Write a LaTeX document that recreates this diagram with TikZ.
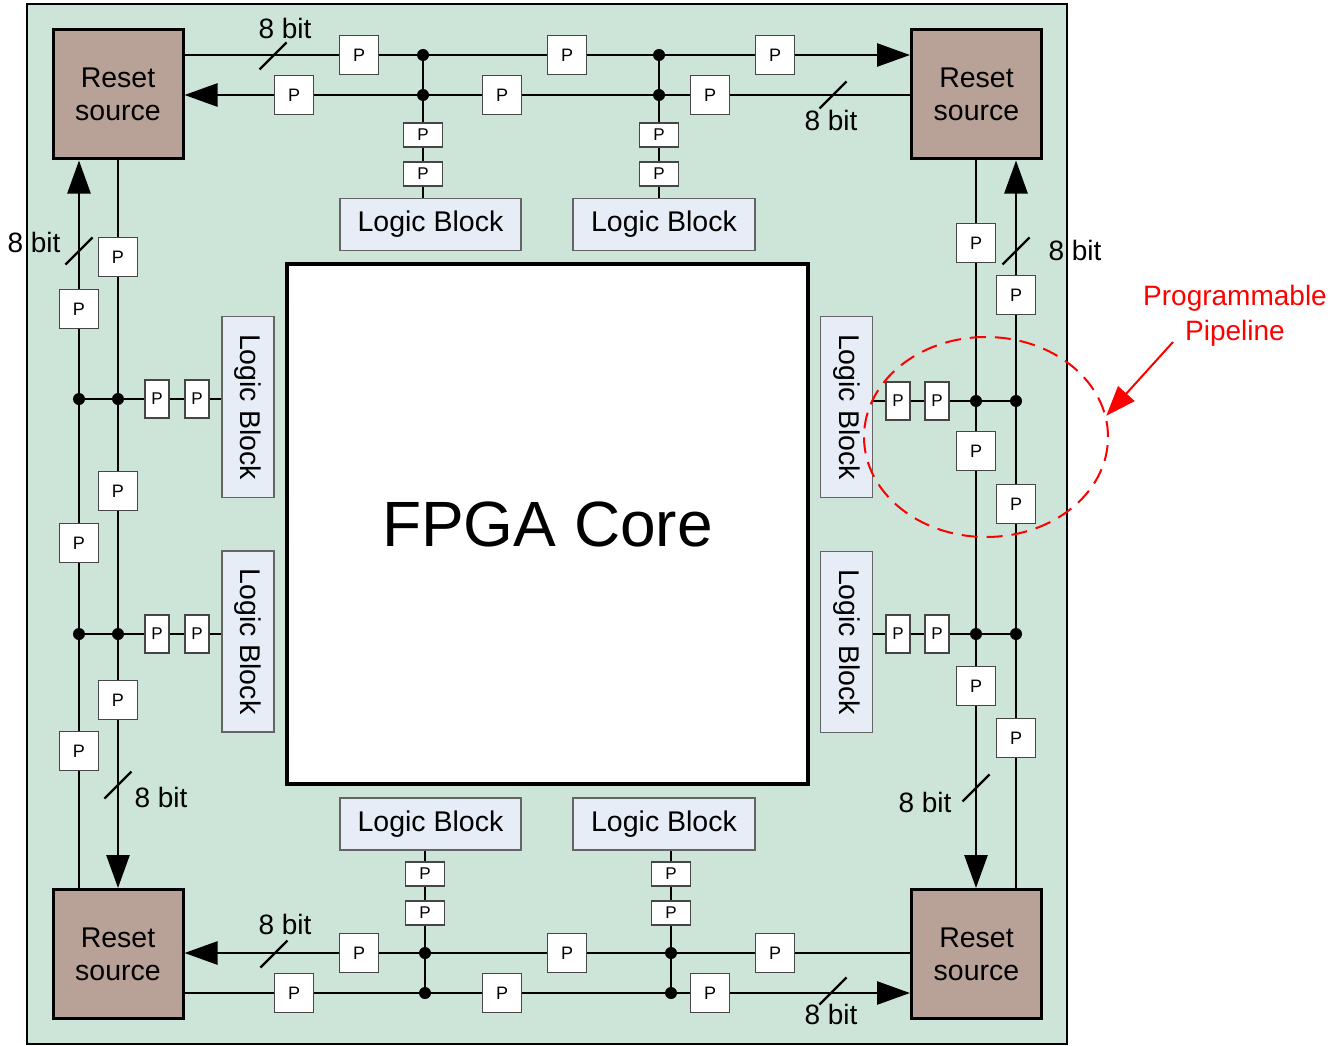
\documentclass[tikz,border=0pt]{standalone}
\usepackage{fontspec}
\setmainfont{Liberation Sans}
\usetikzlibrary{arrows.meta,shapes.geometric}
\definecolor{bgc}{RGB}{205,229,217}
\definecolor{rsc}{RGB}{184,162,152}
\definecolor{lbc}{RGB}{230,237,247}
\definecolor{pbd}{RGB}{70,70,70}
\definecolor{lbd}{RGB}{100,100,100}
\tikzset{
  frame/.style={draw=black, line width=2.5pt, fill=bgc, inner sep=0},
  rs/.style={draw, line width=3pt, fill=rsc, minimum width=130pt, minimum height=129pt, align=center, font=\fontsize{28.5}{33}\selectfont, inner sep=0},
  lbh/.style={draw=lbd, line width=1.3pt, fill=lbc, minimum width=181pt, minimum height=52pt, font=\fontsize{28.5}{32}\selectfont, inner sep=0},
  lbv/.style={lbh, minimum width=52pt, minimum height=181pt},
  pb/.style={draw=pbd, line width=1.3pt, fill=white, minimum width=39pt, minimum height=39pt, font=\fontsize{18}{20}\selectfont, inner sep=0},
  psh/.style={pb, minimum height=24pt, font=\fontsize{17}{18}\selectfont},
  psv/.style={pb, minimum width=24pt, minimum height=38pt, font=\fontsize{17}{18}\selectfont},
  dot/.style={circle, fill=black, inner sep=0, minimum size=12pt},
  bus/.style={line width=2.6pt},
  thinbus/.style={line width=2.2pt},
  arr/.style={-{Triangle[length=33pt,width=23pt]}},
  bits/.style={font=\fontsize{28}{30}\selectfont, inner sep=0},
  slash/.style={line width=2.2pt}
}
\begin{document}
\begin{tikzpicture}[x=1pt,y=-1pt]
\useasboundingbox (0,0) rectangle (1344,1046);
\node[frame, minimum width=1040pt, minimum height=1040pt] (frame) at (547,524) {};

% core
\node[draw, line width=4pt, fill=white, minimum width=521pt, minimum height=520pt, font=\fontsize{64}{70}\selectfont] (core) at (547.5,524) {FPGA Core};

% reset sources
\node[rs] (rsTL) at (118,94.5) {Reset\\source};
\node[rs] (rsTR) at (976.5,94.5) {Reset\\source};
\node[rs] (rsBL) at (118,954) {Reset\\source};
\node[rs] (rsBR) at (976.5,954) {Reset\\source};

% logic blocks
\node[lbh] (lbT1) at (430.5,224.5) {Logic Block};
\node[lbh, minimum width=182pt] (lbT2) at (664,224.5) {Logic Block};
\node[lbh] (lbB1) at (430.5,824) {Logic Block};
\node[lbh, minimum width=182pt] (lbB2) at (664,824) {Logic Block};
\node[lbv] (lbL1) at (248,407) {\rotatebox{-90}{Logic Block}};
\node[lbv] (lbL2) at (248,641.5) {\rotatebox{-90}{Logic Block}};
\node[lbv] (lbR1) at (846.5,407) {\rotatebox{-90}{Logic Block}};
\node[lbv] (lbR2) at (846.5,642) {\rotatebox{-90}{Logic Block}};

% top
\node[dot] (jT1u) at (423,55) {};
\node[dot] (jT1l) at (423,95) {};
\node[dot] (jT2u) at (659,55) {};
\node[dot] (jT2l) at (659,95) {};
\node[pb] (pTu1) at (359,55) {P};
\node[pb] (pTu2) at (567,55) {P};
\node[pb] (pTu3) at (775,55) {P};
\node[pb] (pTl1) at (294,95) {P};
\node[pb] (pTl2) at (502,95) {P};
\node[pb] (pTl3) at (710,95) {P};
\node[psh] (sT1a) at (423,135) {P};
\node[psh] (sT1b) at (423,174) {P};
\node[psh] (sT2a) at (659,135) {P};
\node[psh] (sT2b) at (659,174) {P};

% bottom
\node[dot] (jB1u) at (425,953) {};
\node[dot] (jB1l) at (425,993) {};
\node[dot] (jB2u) at (671,953) {};
\node[dot] (jB2l) at (671,993) {};
\node[pb] (pBu1) at (359,953) {P};
\node[pb] (pBu2) at (567,953) {P};
\node[pb] (pBu3) at (775,953) {P};
\node[pb] (pBl1) at (294,993) {P};
\node[pb] (pBl2) at (502,993) {P};
\node[pb] (pBl3) at (710,993) {P};
\node[psh] (sB1a) at (425,874) {P};
\node[psh] (sB1b) at (425,913) {P};
\node[psh] (sB2a) at (671,874) {P};
\node[psh] (sB2b) at (671,913) {P};

% left
\node[dot] (jL1o) at (79,399) {};
\node[dot] (jL1i) at (118,399) {};
\node[dot] (jL2o) at (79,634) {};
\node[dot] (jL2i) at (118,634) {};
\node[pb] (pLi1) at (118,257) {P};
\node[pb] (pLi2) at (118,491) {P};
\node[pb] (pLi3) at (118,700) {P};
\node[pb] (pLo1) at (79,309) {P};
\node[pb] (pLo2) at (79,543) {P};
\node[pb] (pLo3) at (79,751) {P};
\node[psv] (vL1a) at (157,399) {P};
\node[psv] (vL1b) at (197,399) {P};
\node[psv] (vL2a) at (157,634) {P};
\node[psv] (vL2b) at (197,634) {P};

% right
\node[dot] (jR1i) at (976,401) {};
\node[dot] (jR1o) at (1016,401) {};
\node[dot] (jR2i) at (976,634) {};
\node[dot] (jR2o) at (1016,634) {};
\node[pb] (pRi1) at (976,243) {P};
\node[pb] (pRi2) at (976,451) {P};
\node[pb] (pRi3) at (976,686) {P};
\node[pb] (pRo1) at (1016,295) {P};
\node[pb] (pRo2) at (1016,504) {P};
\node[pb] (pRo3) at (1016,738) {P};
\node[psv] (vR1a) at (898,401) {P};
\node[psv] (vR1b) at (937,401) {P};
\node[psv] (vR2a) at (898,634) {P};
\node[psv] (vR2b) at (937,634) {P};

% top connectors
\draw[bus,arr] (rsTL.east |- jT1u) -- (pTu1) -- (jT1u) -- (pTu2) -- (jT2u) -- (pTu3) -- (rsTR.west |- jT2u);
\draw[bus,arr] (rsTR.west |- jT2l) -- (pTl3) -- (jT2l) -- (pTl2) -- (jT1l) -- (pTl1) -- (rsTL.east |- jT1l);
\draw[thinbus] (jT1u) -- (jT1l) -- (sT1a) -- (sT1b) -- (lbT1.north -| jT1u);
\draw[thinbus] (jT2u) -- (jT2l) -- (sT2a) -- (sT2b) -- (lbT2.north -| jT2u);

% bottom connectors
\draw[bus,arr] (rsBR.west |- jB2u) -- (pBu3) -- (jB2u) -- (pBu2) -- (jB1u) -- (pBu1) -- (rsBL.east |- jB1u);
\draw[bus,arr] (rsBL.east |- jB1l) -- (pBl1) -- (jB1l) -- (pBl2) -- (jB2l) -- (pBl3) -- (rsBR.west |- jB2l);
\draw[thinbus] (lbB1.south -| jB1u) -- (sB1a) -- (sB1b) -- (jB1u) -- (jB1l);
\draw[thinbus] (lbB2.south -| jB2u) -- (sB2a) -- (sB2b) -- (jB2u) -- (jB2l);

% left connectors
\draw[bus,arr] (rsTL.south) -- (pLi1) -- (jL1i) -- (pLi2) -- (jL2i) -- (pLi3) -- (rsBL.north);
\draw[bus,arr] (rsBL.north -| jL2o) -- (pLo3) -- (jL2o) -- (pLo2) -- (jL1o) -- (pLo1) -- (rsTL.south -| jL1o);
\draw[thinbus] (jL1o) -- (jL1i) -- (vL1a) -- (vL1b) -- (lbL1.west |- jL1o);
\draw[thinbus] (jL2o) -- (jL2i) -- (vL2a) -- (vL2b) -- (lbL2.west |- jL2o);

% right connectors
\draw[bus,arr] (rsTR.south -| jR1i) -- (pRi1) -- (jR1i) -- (pRi2) -- (jR2i) -- (pRi3) -- (rsBR.north -| jR2i);
\draw[bus,arr] (rsBR.north -| jR2o) -- (pRo3) -- (jR2o) -- (pRo2) -- (jR1o) -- (pRo1) -- (rsTR.south -| jR1o);
\draw[thinbus] (lbR1.east |- jR1i) -- (vR1a) -- (vR1b) -- (jR1i) -- (jR1o);
\draw[thinbus] (lbR2.east |- jR2i) -- (vR2a) -- (vR2b) -- (jR2i) -- (jR2o);

% 8 bit markers
\coordinate (s1) at (273,56);  \draw[slash] (s1) ++(-13.5,13.5) -- ++(27,-27);
\node[bits] (b1) at (285,28) {8 bit};
\coordinate (s2) at (833,95);  \draw[slash] (s2) ++(-13.5,13.5) -- ++(27,-27);
\node[bits] (b2) at (831,120) {8 bit};
\coordinate (s3) at (79,251);  \draw[slash] (s3) ++(-13.5,13.5) -- ++(27,-27);
\node[bits] (b3) at (34,242) {8 bit};
\coordinate (s4) at (118,785); \draw[slash] (s4) ++(-13.5,13.5) -- ++(27,-27);
\node[bits] (b4) at (161,797) {8 bit};
\coordinate (s5) at (274,954); \draw[slash] (s5) ++(-13.5,13.5) -- ++(27,-27);
\node[bits] (b5) at (285,924) {8 bit};
\coordinate (s6) at (833,991); \draw[slash] (s6) ++(-13.5,13.5) -- ++(27,-27);
\node[bits] (b6) at (831,1014) {8 bit};
\coordinate (s7) at (1016,251); \draw[slash] (s7) ++(-13.5,13.5) -- ++(27,-27);
\node[bits] (b7) at (1075,250) {8 bit};
\coordinate (s8) at (976,788); \draw[slash] (s8) ++(-13.5,13.5) -- ++(27,-27);
\node[bits] (b8) at (925,802) {8 bit};

% programmable pipeline highlight
\node[ellipse, draw=red, line width=2pt, dash pattern=on 16pt off 9pt, minimum width=244pt, minimum height=200pt, inner sep=0] (pp) at (986,437) {};
\node[text=red, align=center, font=\fontsize{28}{35}\selectfont] (plab) at (1235,316) {Programmable\\Pipeline};
\coordinate (pa) at (1173,342);
\draw[red, line width=2pt, -{Triangle[length=30pt,width=22pt]}] (pa) -- (pp.10);
\end{tikzpicture}
\end{document}
